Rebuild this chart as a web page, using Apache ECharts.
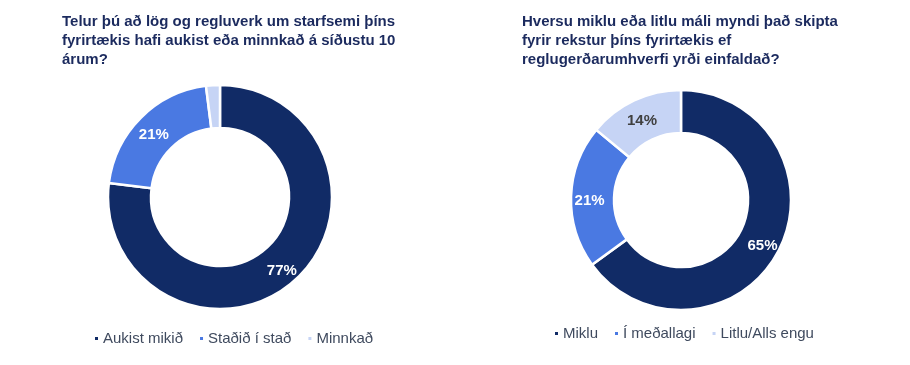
<!DOCTYPE html>
<html><head><meta charset="utf-8">
<script src="https://cdn.jsdelivr.net/npm/echarts@6/dist/echarts.min.js"></script>
<style>html,body{margin:0;padding:0;background:#fff}#c{width:910px;height:365px}</style>
</head><body><div id="c"></div>
<script>
const leftTitle = 'Telur þú að lög og regluverk um starfsemi þíns\nfyrirtækis hafi aukist eða minnkað á síðustu 10\nárum?';
const rightTitle = 'Hversu miklu eða litlu máli myndi það skipta\nfyrir rekstur þíns fyrirtækis ef\nreglugerðarumhverfi yrði einfaldað?';
const leftCategories = ['Aukist mikið', 'Staðið í stað', 'Minnkað'];
const leftValues = [77, 21, 2];
const rightCategories = ['Miklu', 'Í meðallagi', 'Litlu/Alls engu'];
const rightValues = [65, 21, 14];
const colors = ['#112b66', '#4a79e2', '#c6d4f5'];
const labelColors = ['#ffffff', '#ffffff', '#404040'];

const font = '"Liberation Sans", Arial, sans-serif';
function mk(cats, vals) {
  return cats.map((n, i) => ({
    name: n, value: vals[i],
    itemStyle: { color: colors[i] },
    label: { color: labelColors[i], show: vals[i] >= 5 }
  }));
}
const titleStyle = { fontFamily: font, fontSize: 15, fontWeight: 'bold', color: '#1b2a5e', lineHeight: 19 };
const legendBase = { icon: 'rect', itemWidth: 5, itemHeight: 5, itemGap: 15, padding: 0,
  textStyle: { fontFamily: font, fontSize: 15, color: '#3f4a5e', padding: [0, 0, 0, -1] } };
const labelBase = { position: 'inside', formatter: '{s|}\n{c}%', fontFamily: font, fontSize: 15, fontWeight: 'bold',
  lineHeight: 17, rich: { s: { height: 8, lineHeight: 8, fontSize: 1 } } };
const chart = echarts.init(document.getElementById('c'));
chart.setOption({
  animation: false,
  title: [
    { text: leftTitle, left: 62, top: 12, padding: 0, textStyle: titleStyle },
    { text: rightTitle, left: 522, top: 12, padding: 0, textStyle: titleStyle }
  ],
  legend: [
    Object.assign({ data: leftCategories, left: 93, top: 331 }, legendBase),
    Object.assign({ data: rightCategories, left: 553, top: 326 }, legendBase)
  ],
  series: [
    { type: 'pie', center: [220, 197], radius: [69, 112], startAngle: 90, clockwise: true,
      itemStyle: { borderColor: '#fff', borderWidth: 2.5 },
      label: labelBase,
      labelLine: { show: false }, emphasis: { disabled: true },
      data: mk(leftCategories, leftValues) },
    { type: 'pie', center: [681, 200], radius: [67, 110], startAngle: 90, clockwise: true,
      itemStyle: { borderColor: '#fff', borderWidth: 2.5 },
      label: labelBase,
      labelLine: { show: false }, emphasis: { disabled: true },
      data: mk(rightCategories, rightValues) }
  ]
});
</script></body></html>
